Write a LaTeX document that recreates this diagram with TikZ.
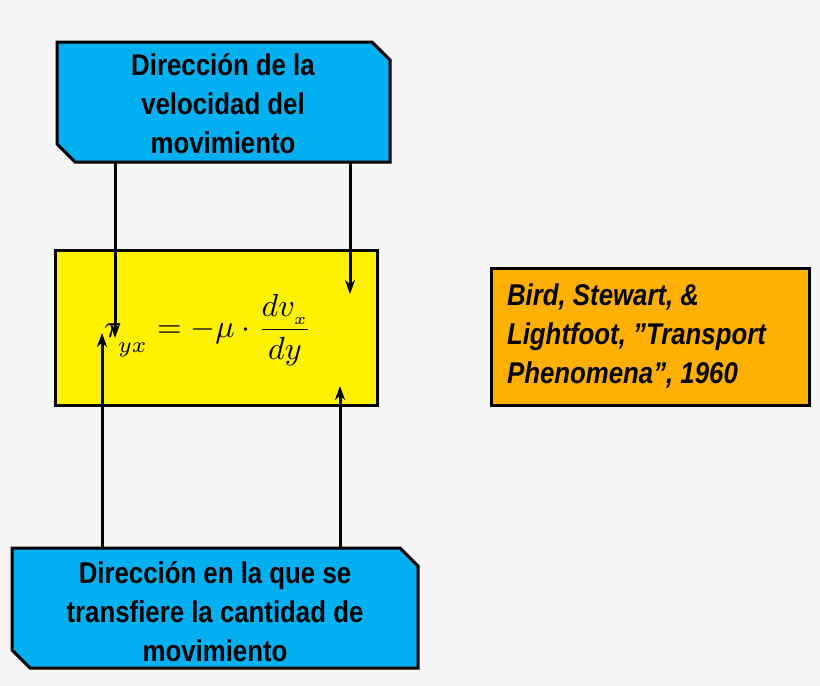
\documentclass[tikz,border=0pt]{standalone}
\usepackage{fontspec}
\setmainfont{Liberation Sans}
\usepackage{amsmath}
\usetikzlibrary{arrows.meta}
\begin{document}
\begin{tikzpicture}[x=1pt,y=-1pt,
  box/.style={draw=black,line width=3pt},
  lab/.style={font=\bfseries\fontsize{30}{39}\selectfont,align=center},
  arr/.style={line width=3pt,-{Stealth[length=14pt,width=10pt]}}]
\fill[gray!8] (0,0) rectangle (820,686);
\useasboundingbox (0,0) rectangle (820,686);
% top box
\draw[box,fill={rgb,255:red,0;green,176;blue,240}] (57,42) -- (372,42) -- (390,60) -- (390,162) -- (75,162) -- (57,144) -- cycle;
\node[lab,xscale=0.86] (top) at (223,104) {Dirección de la\\velocidad del\\movimiento};
% bottom box
\draw[box,fill={rgb,255:red,0;green,176;blue,240}] (12,548) -- (400,548) -- (418,566) -- (418,668) -- (30,668) -- (12,650) -- cycle;
\node[lab,xscale=0.86] (bot) at (215,612) {Dirección en la que se\\transfiere la cantidad de\\movimiento};
% yellow box
\draw[box,fill=yellow] (55,250) rectangle (377,405);
\node (eq) at (208,330) {\scalebox{3.2}{$\tau_{\raisebox{-3pt}{$\scriptstyle yx$}} = -\mu\cdot\dfrac{dv_{\raisebox{-1pt}{$\scriptscriptstyle x$}}}{dy}$}};
% orange box
\draw[box,fill={rgb,255:red,255;green,176;blue,0}] (491,268) rectangle (809,405);
\node[font=\bfseries\itshape\fontsize{30}{39}\selectfont,align=left,anchor=west,xscale=0.86] (ref) at (504,336) {\addfontfeature{Ligatures=TeXOff}Bird, Stewart, \&\\Lightfoot, "Transport\\Phenomena", 1960};
% arrows
\coordinate (t1) at (115,162); \coordinate (t1e) at (115,338);
\coordinate (t2) at (350,162); \coordinate (t2e) at (350,294);
\coordinate (b1) at (102,548); \coordinate (b1e) at (102,333);
\coordinate (b2) at (340,548); \coordinate (b2e) at (340,386);
\draw[arr] (t1) -- (t1e);
\draw[arr] (t2) -- (t2e);
\draw[arr] (b1) -- (b1e);
\draw[arr] (b2) -- (b2e);
\end{tikzpicture}
\end{document}
